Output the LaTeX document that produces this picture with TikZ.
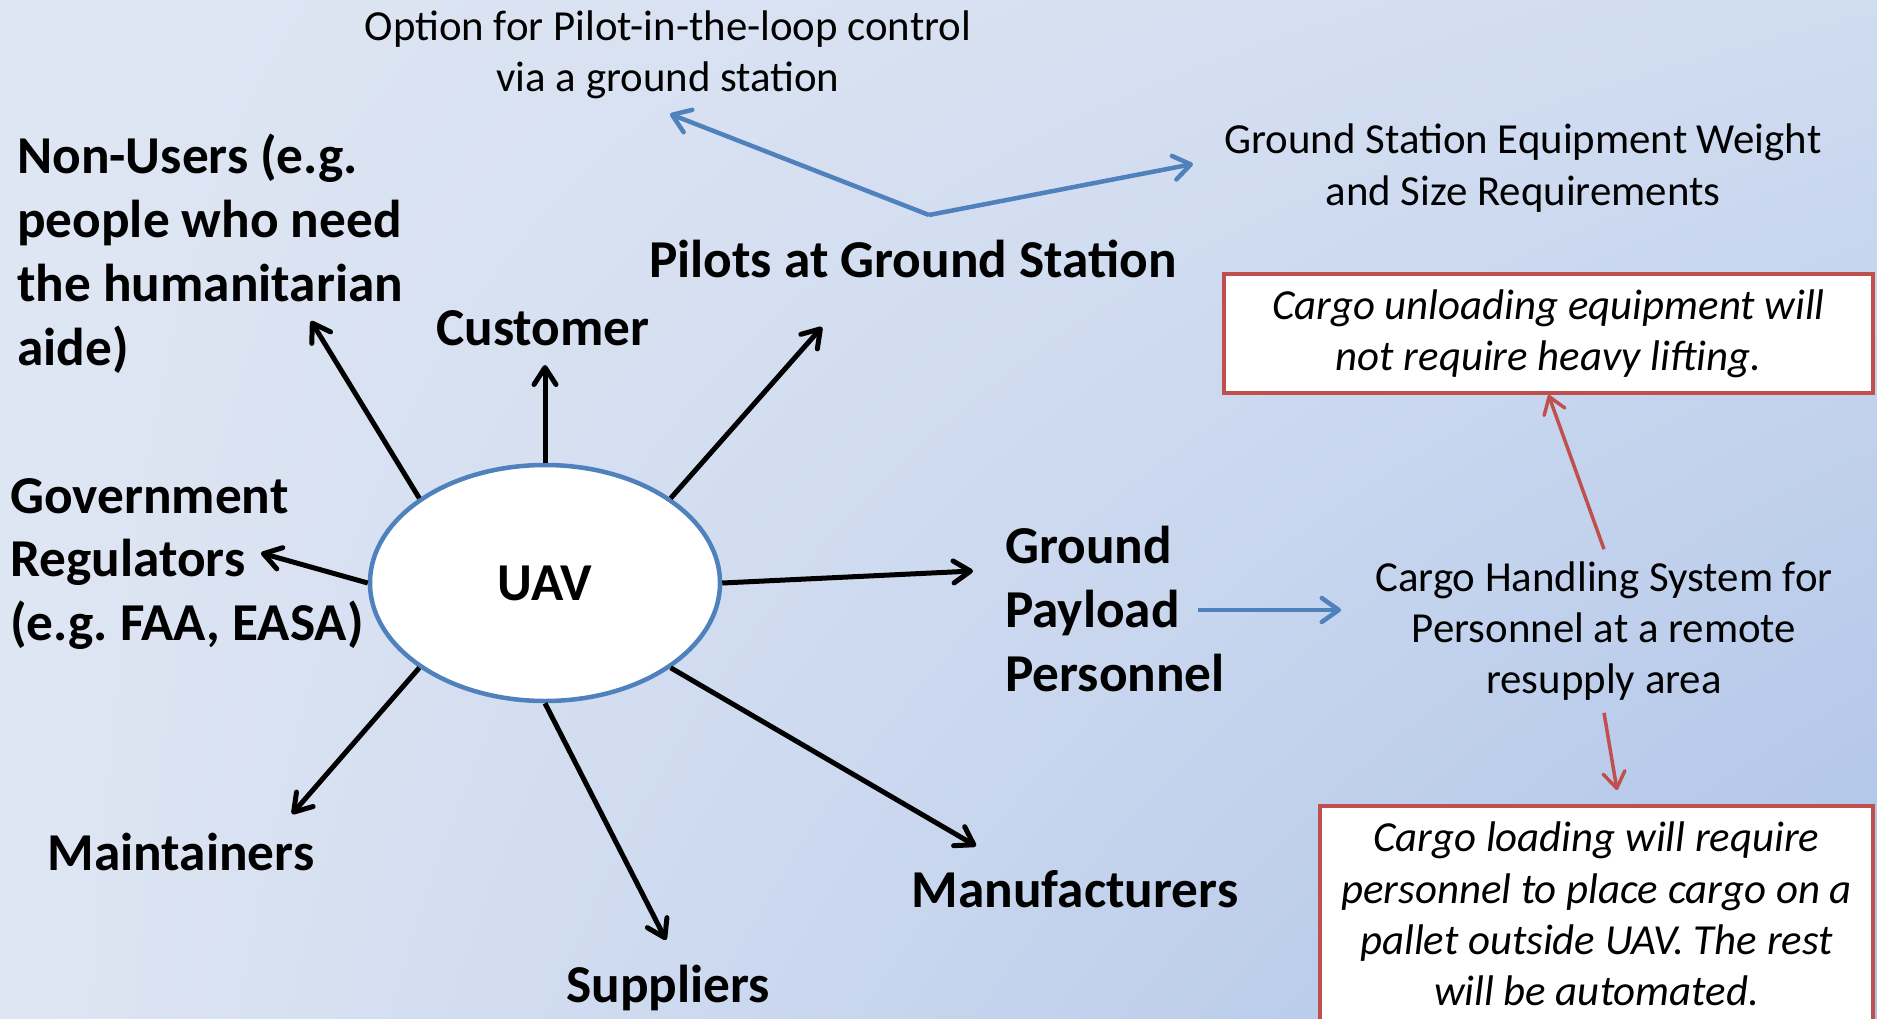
\documentclass[tikz,border=0pt]{standalone}
\usepackage{fontspec}
\setmainfont{Carlito}
\usepackage{tikz}
\usetikzlibrary{arrows.meta,positioning,shapes.geometric,calc,shadings}
\frenchspacing

\definecolor{uavblue}{RGB}{79,129,189}
\definecolor{boxred}{RGB}{192,80,77}
\definecolor{bgleft}{RGB}{223,230,243}
\definecolor{bgtopright}{RGB}{208,220,240}
\definecolor{bgbotright}{RGB}{172,194,232}

\begin{document}
\begin{tikzpicture}[
    x=1bp, y=-1bp,
    who/.style={inner sep=0pt, align=left, font=\bfseries\fontsize{53.5}{64}\selectfont},
    note/.style={inner sep=12bp, align=center, font=\fontsize{43}{51.5}\selectfont},
    redbox/.style={rectangle, draw=boxred, line width=4bp, fill=white, inner sep=0pt, align=center, font=\itshape\fontsize{43}{51.5}\selectfont},
    spoke/.style={line width=5bp, -{Straight Barb[length=17bp, width=22bp, round]}},
    blink/.style={draw=uavblue, line width=4.5bp, -{Straight Barb[length=17bp, width=24bp, round]}},
    rlink/.style={draw=boxred, line width=3.5bp, -{Straight Barb[length=16bp, width=22bp, round]}}
]
    % Background
    \useasboundingbox (0,0) rectangle (1877,1018);
    \clip (0,0) rectangle (1877,1018);
    \shade[upper left=bgleft, lower left=bgleft, upper right=bgtopright, lower right=bgbotright] (0,0) rectangle (1877,1018);

    % Centre
    \node[ellipse, draw=uavblue, line width=4.5bp, fill=white, minimum width=350bp, minimum height=236bp, inner sep=0pt,
          font=\bfseries\fontsize{53.5}{64}\selectfont] (uav) at (545,583) {UAV};

    % Stakeholders
    \node[who, anchor=north west] (nonusers) at (17,134) {Non-Users (e.g.\\people who need\\the humanitarian\\aide)};
    \node[who] (customer) at (543,328) {Customer};
    \node[who] (pilots) at (913,259) {Pilots at Ground Station};
    \node[who, anchor=north west] (gov) at (10,478) {Government\\Regulators\\(e.g. FAA, EASA)};
    \node[who, anchor=north west] (payload) at (1005,526) {Ground\\Payload\\Personnel};
    \node[who] (maint) at (181,852) {Maintainers};
    \node[who] (suppl) at (668,988) {Suppliers};
    \node[who] (manuf) at (1075,889) {Manufacturers};

    % Notes
    \node[note] (option) at (668,55) {Option for Pilot-in-the-loop control\\via a ground station};
    \node[note] (gsreq) at (1523,168) {Ground Station Equipment Weight\\and Size Requirements};
    \node[note] (cargo) at (1604,631) {Cargo Handling System for\\Personnel at a remote\\resupply area};

    % Requirement boxes
    \node[redbox, minimum width=649bp, minimum height=119bp] (unload) at (1548.5,333.5)
        {Cargo unloading equipment will\\not require heavy lifting.};
    \node[redbox, minimum width=553bp, anchor=north, inner ysep=16bp] (load) at (1596.5,804)
        {Cargo loading will require\\personnel to place cargo on a\\pallet outside UAV. The rest\\will be automated.};

    % Arrow ends
    \coordinate (tNon) at (311,321);
    \coordinate (tCus) at (545,365);
    \coordinate (tPil) at (822,327);
    \coordinate (tGov) at (261,553);
    \coordinate (tGro) at (973,571);
    \coordinate (tMai) at (292,814);
    \coordinate (tSup) at (666,940);
    \coordinate (tMan) at (976,846);
    \coordinate (fork) at (929,215);
    \coordinate (tOpt) at (670,114);
    \coordinate (tReq) at (1193,164);
    \coordinate (sPay) at (1198,610);
    \coordinate (tCar) at (1341,610);
    \coordinate (tLoad) at (1617,790);

    % UAV spokes
    \draw[spoke] (uav.146) -- (tNon);
    \draw[spoke] (uav.90) -- (tCus);
    \draw[spoke] (uav.34) -- (tPil);
    \draw[spoke] (uav.180) -- (tGov);
    \draw[spoke] (uav.0) -- (tGro);
    \draw[spoke] (uav.214) -- (tMai);
    \draw[spoke] (uav.270) -- (tSup);
    \draw[spoke] (uav.326) -- (tMan);

    % Ground station and payload links
    \draw[blink] (fork) -- (tOpt);
    \draw[blink] (fork) -- (tReq);
    \draw[blink] (sPay) -- (tCar);

    % Cargo handling links
    \draw[rlink] (cargo.north) -- (unload.south);
    \draw[rlink] (cargo.south) -- (tLoad);
\end{tikzpicture}
\end{document}
